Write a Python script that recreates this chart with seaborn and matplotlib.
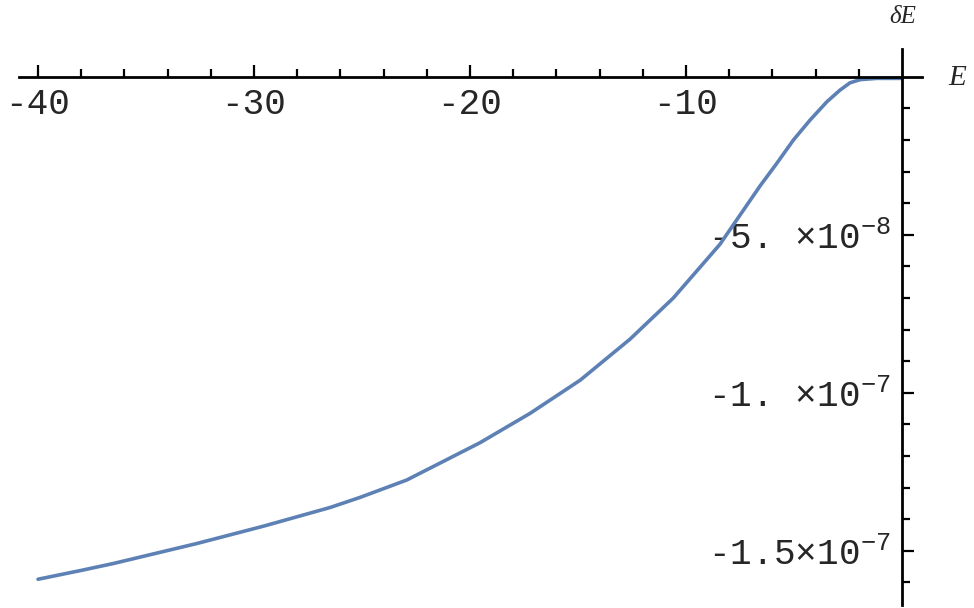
import numpy as np
import pandas as pd
import matplotlib
matplotlib.use("Agg")
import matplotlib.pyplot as plt
import seaborn as sns
from matplotlib.ticker import FixedLocator, FixedFormatter

# values (dE in units of 1e-8)
energy = [-40, -38, -36.5, -32.65, -29.56, -26.48, -25.09, -22.93, -19.54, -17.22,
          -14.9, -12.59, -10.59, -8.43, -6.57, -5.8, -5.03, -4.26, -3.48, -2.87,
          -2.41, -1.94, -1.17, -0.5, 0]
delta_e = [-15.9, -15.62, -15.40, -14.77, -14.22, -13.63, -13.31, -12.76, -11.58, -10.65,
           -9.6, -8.3, -7.0, -5.3, -3.45, -2.74, -2.0, -1.37, -0.79, -0.42,
           -0.19, -0.09, -0.05, -0.05, -0.05]

x_major = [-40, -30, -20, -10]
x_labels = ["-40", "-30", "-20", "-10"]
y_major = [-5e-8, -1e-7, -1.5e-7]
y_labels = ["-5. \u00d710$^{-8}$", "-1. \u00d710$^{-7}$", "-1.5\u00d710$^{-7}$"]

df = pd.DataFrame({"E": energy, "dE": np.array(delta_e) * 1e-8})

sns.set_style("white")
plt.rcParams["font.family"] = ["Liberation Mono", "DejaVu Sans Mono"]
plt.rcParams["mathtext.fontset"] = "custom"
plt.rcParams["mathtext.rm"] = "Liberation Mono"
plt.rcParams["mathtext.it"] = "Liberation Mono"

fig = plt.figure(figsize=(9.74, 6.08), dpi=100)
ax = fig.add_axes([0, 0, 1, 1])
sns.lineplot(data=df, x="E", y="dE", color="#5E81B5", linewidth=2.6, ax=ax)
ax.lines[0].set_solid_joinstyle("round")

ax.set_xlim(-41.76, 3.33)
ax.set_ylim(-16.81e-8, 2.43e-8)

for s in ["top", "right"]:
    ax.spines[s].set_visible(False)
ax.spines["bottom"].set_position(("data", 0))
ax.spines["left"].set_position(("data", 0))
ax.spines["bottom"].set_bounds(-40.88, 0.91)
ax.spines["left"].set_bounds(-16.72e-8, 0.88e-8)
for s in ["bottom", "left"]:
    ax.spines[s].set_linewidth(2.0)
    ax.spines[s].set_color("black")

ax.xaxis.set_major_locator(FixedLocator(x_major))
ax.xaxis.set_major_formatter(FixedFormatter(x_labels))
ax.xaxis.set_minor_locator(FixedLocator([v for v in range(-38, 0, 2) if v % 10 != 0]))
ax.yaxis.set_major_locator(FixedLocator(y_major))
ax.yaxis.set_major_formatter(FixedFormatter(y_labels))
ax.yaxis.set_minor_locator(FixedLocator([-k * 1e-8 for k in range(1, 17) if k % 5 != 0]))

ax.tick_params(which="both", bottom=True, left=True, direction="in",
               color="black", width=1.6, labelsize=26)
ax.tick_params(which="major", length=8.5)
ax.tick_params(which="minor", length=5.5)
ax.tick_params(axis="x", which="major", pad=7)
ax.tick_params(axis="y", which="major", pad=8)

ax.set_xlabel("")
ax.set_ylabel("")
fig.text(957 / 974, 1 - 78 / 608, "E", ha="center", va="center",
         family="Liberation Serif", style="italic", fontsize=21)
fig.text(903 / 974, 1 - 17 / 608, "\u03b4E", ha="center", va="center",
         family="Liberation Serif", style="italic", fontsize=18)

fig.savefig("out.png", dpi=100)
